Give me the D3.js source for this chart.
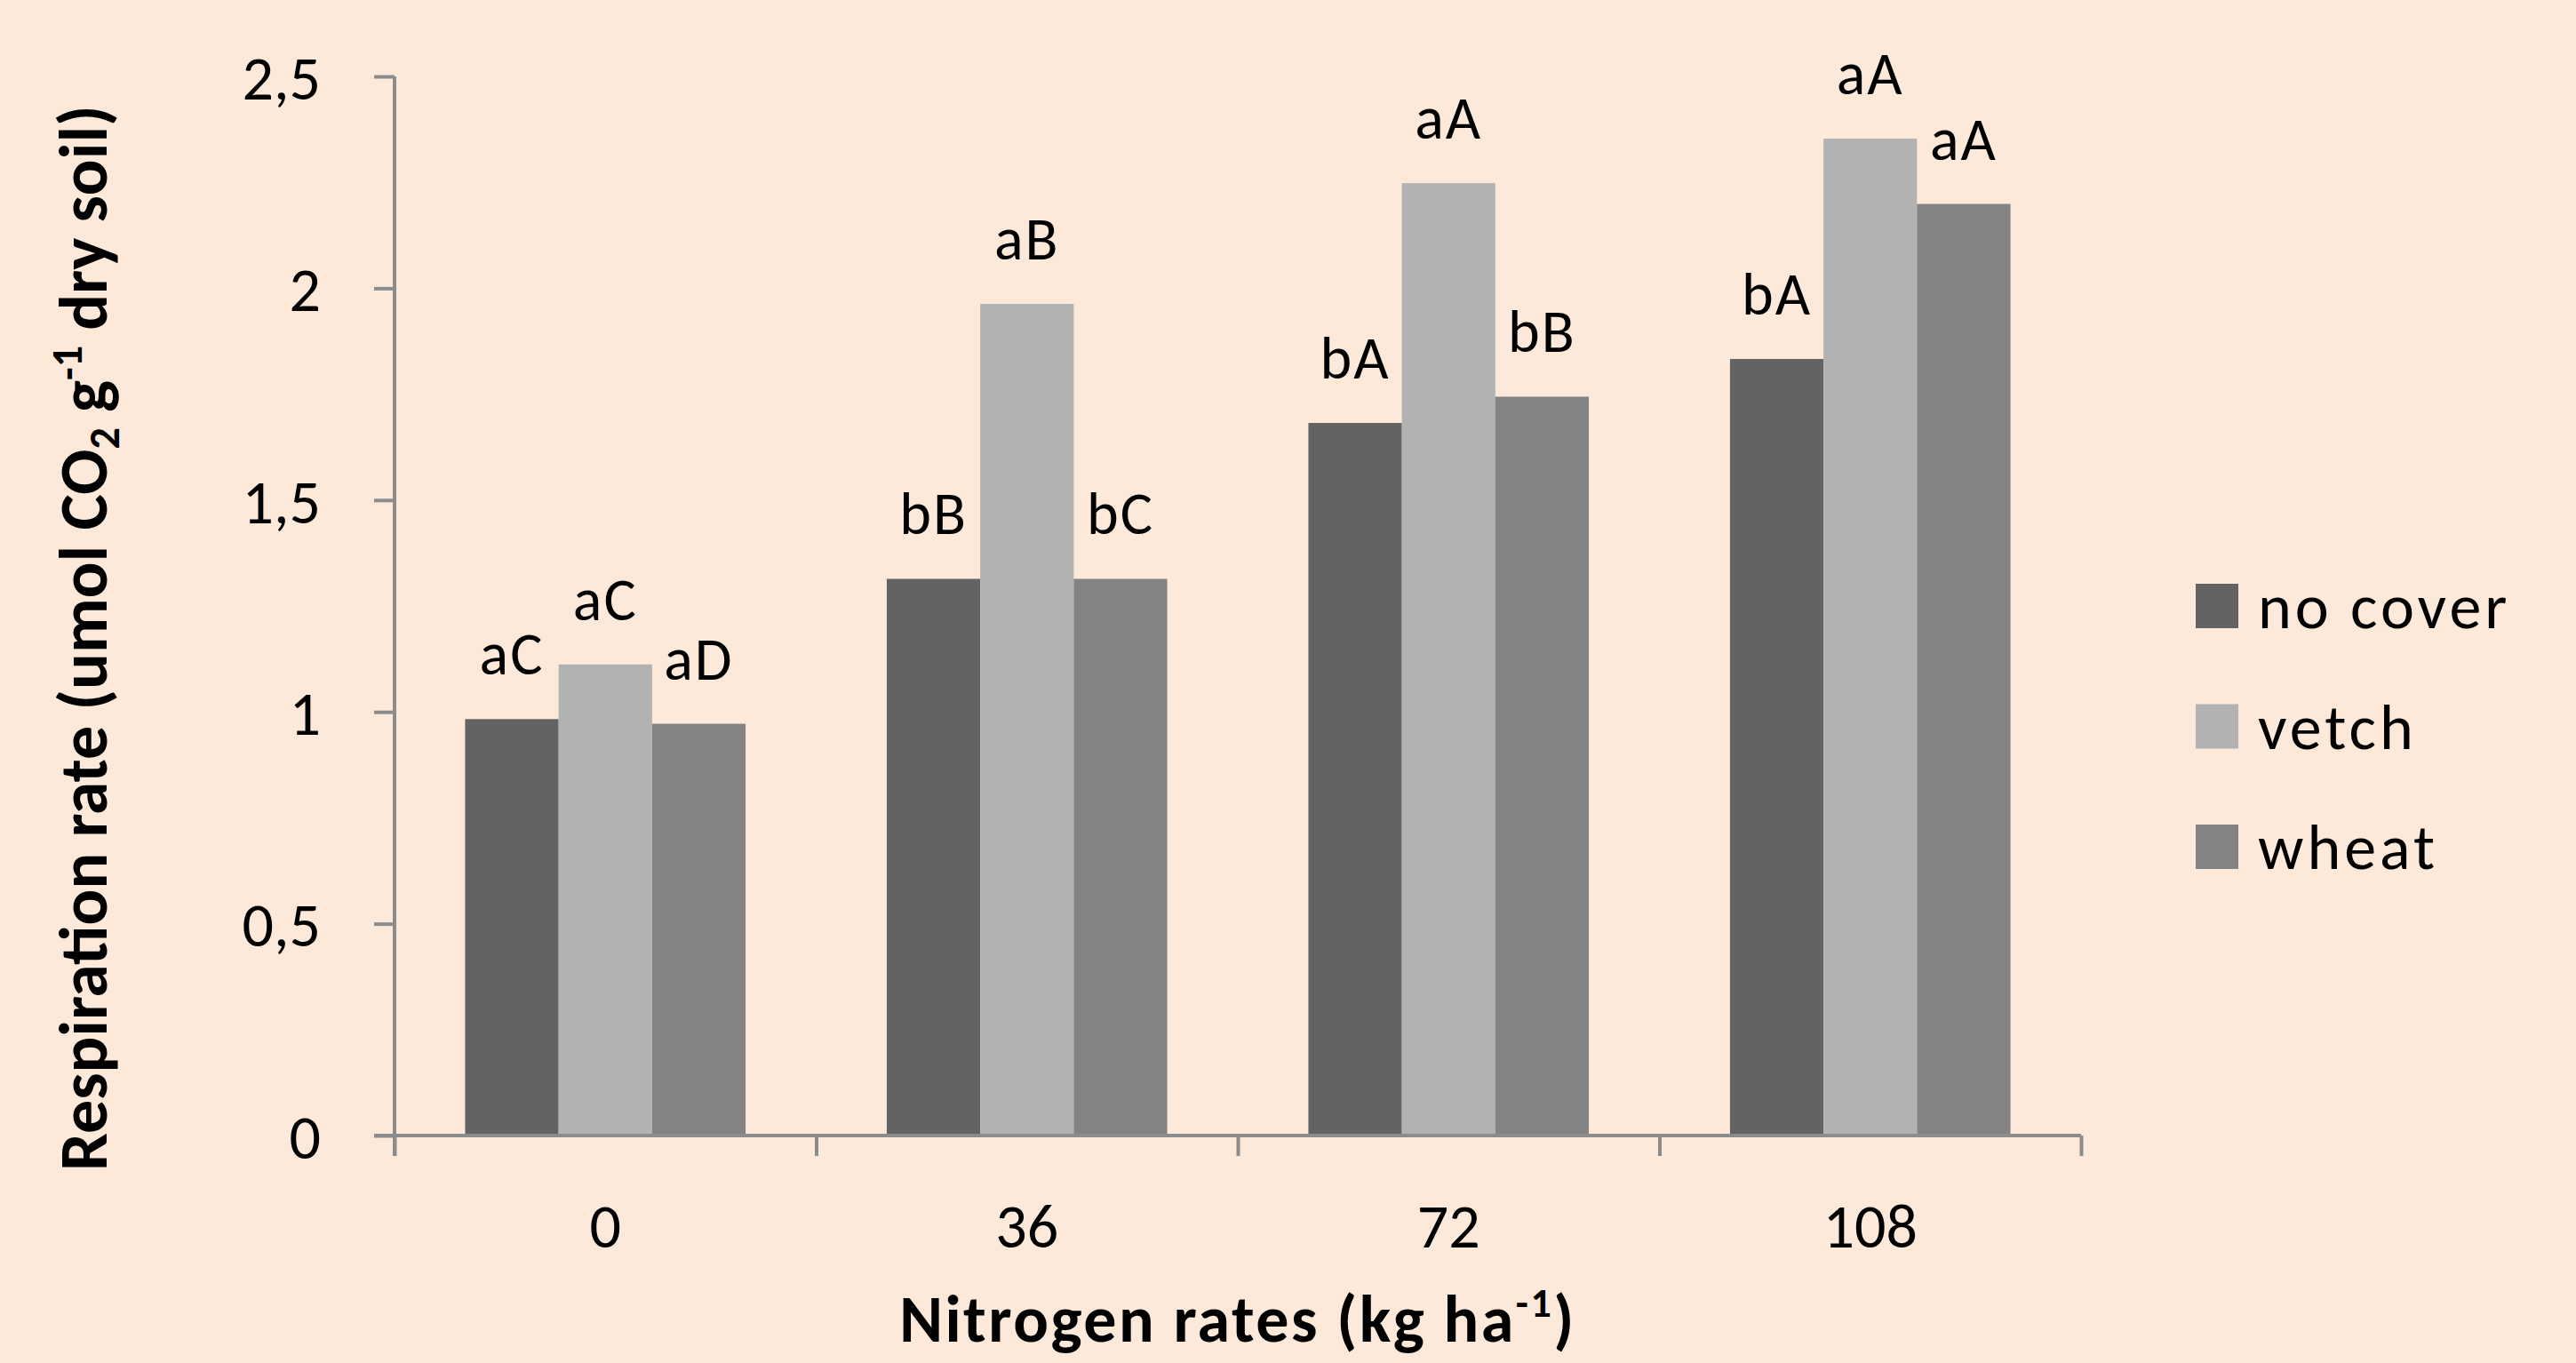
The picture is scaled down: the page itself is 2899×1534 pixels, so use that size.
<!DOCTYPE html>
<html>
<head>
<meta charset="utf-8">
<script src="https://cdn.jsdelivr.net/npm/d3@7"></script>
<style>
  body { margin: 0; background: #fde9d9; }
  text { font-family: Carlito, Calibri, Lato, sans-serif; fill: #000; }
</style>
</head>
<body>
<div id="chart-area"></div>
<script>
var width = 2899,
    height = 1534;

// data
var categories = ["0", "36", "72", "108"];
var series = ["no cover", "vetch", "wheat"];
var noCover = [0.983, 1.314, 1.682, 1.833];
var vetch = [1.112, 1.963, 2.248, 2.353];
var wheat = [0.972, 1.314, 1.744, 2.199];
var noCoverLetters = ["aC", "bB", "bA", "bA"];
var vetchLetters = ["aC", "aB", "aA", "aA"];
var wheatLetters = ["aD", "bC", "bB", "aA"];
var yTicks = [0, 0.5, 1, 1.5, 2, 2.5];
var colors = ["#636363", "#b2b2b2", "#838383"];

var values = [noCover, vetch, wheat];
var letters = [noCoverLetters, vetchLetters, wheatLetters];

// plot box
var pLeft = 444, pRight = 2342, pTop = 86, pBottom = 1278;

var svg = d3.select("#chart-area").append("svg")
    .attr("width", width)
    .attr("height", height)
    .style("display", "block");

svg.append("rect")
    .attr("width", width)
    .attr("height", height)
    .attr("fill", "#fde9d9");

// scales
var x0 = d3.scaleBand()
    .domain(categories)
    .range([pLeft, pRight])
    .padding(0);

var x1 = d3.scaleBand()
    .domain(series)
    .range([0, x0.bandwidth()])
    .paddingInner(0)
    .paddingOuter(0.755);

var y = d3.scaleLinear()
    .domain([0, 2.5])
    .range([pBottom, pTop]);

var color = d3.scaleOrdinal().domain(series).range(colors);

// flatten to rows
var rows = [];
categories.forEach(function(c, i) {
  series.forEach(function(s, j) {
    rows.push({cat: c, series: s, value: values[j][i], letter: letters[j][i]});
  });
});

// bars
svg.selectAll(".bar")
    .data(rows)
    .enter()
    .append("rect")
    .attr("class", "bar")
    .attr("x", d => x0(d.cat) + x1(d.series))
    .attr("y", d => y(d.value))
    .attr("width", x1.bandwidth())
    .attr("height", d => y(0) - y(d.value))
    .attr("fill", d => color(d.series));

// letters above bars
svg.selectAll(".lbl")
    .data(rows)
    .enter()
    .append("text")
    .attr("class", "lbl")
    .attr("x", d => x0(d.cat) + x1(d.series) + x1.bandwidth() / 2)
    .attr("y", d => y(d.value) - 50)
    .attr("text-anchor", "middle")
    .style("font-size", "68px")
    .style("letter-spacing", "2px")
    .text(d => d.letter);

// y axis
var yAxis = d3.axisLeft(y)
    .tickValues(yTicks)
    .tickSize(23)
    .tickSizeOuter(0)
    .tickPadding(60)
    .tickFormat(d => String(d).replace(".", ","));

var gy = svg.append("g")
    .attr("transform", "translate(" + pLeft + ",0)")
    .call(yAxis);

gy.select(".domain").attr("stroke", "#8c8c8c").attr("stroke-width", 4)
    .attr("d", "M0," + pTop + "V" + (pBottom + 23));
gy.selectAll(".tick line").attr("stroke", "#8c8c8c").attr("stroke-width", 4);
gy.selectAll(".tick text")
    .attr("font-family", null)
    .attr("font-size", null)
    .style("font-size", "70px")
    .attr("dy", "0.36em");

// x axis: boundary ticks between groups
var xb = d3.scaleLinear().domain([0, categories.length]).range([pLeft, pRight]);
var gx = svg.append("g")
    .attr("transform", "translate(0," + pBottom + ")")
    .call(d3.axisBottom(xb).ticks(categories.length).tickSize(23).tickSizeOuter(0).tickFormat(""));

gx.select(".domain").attr("stroke", "#8c8c8c").attr("stroke-width", 4)
    .attr("d", "M" + (pLeft - 23) + ",0H" + pRight);
gx.selectAll(".tick line").attr("stroke", "#8c8c8c").attr("stroke-width", 4);

// category labels
svg.selectAll(".cat")
    .data(categories)
    .enter()
    .append("text")
    .attr("class", "cat")
    .attr("x", d => x0(d) + x0.bandwidth() / 2)
    .attr("y", 1404)
    .attr("text-anchor", "middle")
    .style("font-size", "70px")
    .text(d => d);

// axis titles
var xt = svg.append("text")
    .attr("x", (pLeft + pRight) / 2)
    .attr("y", 1510)
    .attr("text-anchor", "middle")
    .style("font-size", "74px")
    .style("font-weight", "bold")
    .style("letter-spacing", "2.5px");
xt.append("tspan").text("Nitrogen rates (kg ha");
xt.append("tspan").attr("dy", -28).style("font-size", "46px").text("-1");
xt.append("tspan").attr("dy", 28).text(")");

var yt = svg.append("text")
    .attr("transform", "translate(120," + 718 + ") rotate(-90)")
    .attr("text-anchor", "middle")
    .style("font-size", "76px")
    .style("font-weight", "bold");
yt.append("tspan").text("Respiration rate (umol CO");
yt.append("tspan").attr("dy", 14).style("font-size", "48px").text("2");
yt.append("tspan").attr("dy", -14).text(" g");
yt.append("tspan").attr("dy", -28).style("font-size", "48px").text("-1");
yt.append("tspan").attr("dy", 28).text(" dry soil)");

// legend
var legend = svg.selectAll(".legend")
    .data(series)
    .enter()
    .append("g")
    .attr("class", "legend")
    .attr("transform", (d, i) => "translate(2471," + (657 + i * 135.5) + ")");

legend.append("rect")
    .attr("width", 48)
    .attr("height", 50)
    .attr("fill", d => color(d));

legend.append("text")
    .attr("x", 70)
    .attr("y", 50)
    .style("font-size", "72px")
    .style("letter-spacing", "4px")
    .text(d => d);
</script>
</body>
</html>
